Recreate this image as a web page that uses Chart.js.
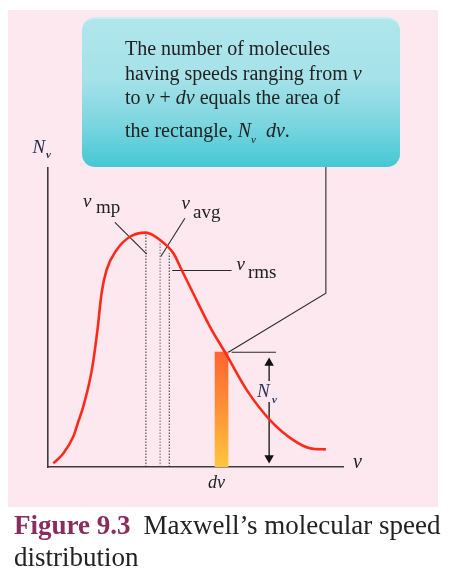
<!DOCTYPE html>
<html>
<head>
<meta charset="utf-8">
<script src="https://cdn.jsdelivr.net/npm/chart.js@4.4.1/dist/chart.umd.min.js"></script>
<style>
  html, body { margin:0; padding:0; background:#fff; }
  #page { position:relative; width:461px; height:578px; overflow:hidden; font-family:"Liberation Serif","Times New Roman",serif; color:#222; }
  #panel { position:absolute; left:8px; top:10px; width:430px; height:497px; background:#fde8ef; }
  #chart { position:absolute; left:0; top:0; }
  #note { position:absolute; left:82px; top:17px; width:318px; height:150px; border-radius:13px;
          background:linear-gradient(to bottom, #b0e6ec 0%, #a6e2e9 40%, #7dd6df 70%, #44c8d4 100%);
          border-top:2px solid #c8f0f3; box-sizing:border-box; }
  .t { position:absolute; line-height:1; white-space:nowrap; }
  .note { font-size:20px; left:125px; color:#222; }
  .lbl { font-size:19px; }
  i { font-style:italic; }
</style>
</head>
<body>
<div id="page">
  <div id="panel"></div>
  <canvas id="chart" width="461" height="578"></canvas>
  <div id="note"></div>

  <div class="t note" style="top:37.5px">The number of molecules</div>
  <div class="t note" style="top:62.5px">having speeds ranging from <i>ν</i></div>
  <div class="t note" style="top:87.3px">to <i>ν</i> + <i>dν</i> equals the area of</div>
  <div class="t note" style="top:120px">the rectangle, <i>N</i><i style="font-size:11px;position:relative;top:6px">ν</i>&nbsp; <i>dν</i>.</div>

  <div class="t lbl" style="left:32.5px;top:137.4px;font-size:19px;color:#1e2a4a"><i>N</i></div>
  <div class="t" style="left:46px;top:149px;font-size:11px;font-weight:bold;color:#1e2a4a"><i>ν</i></div>

  <div class="t lbl" style="left:83px;top:191px"><i>ν</i></div>
  <div class="t lbl" style="left:96px;top:196.8px">mp</div>
  <div class="t lbl" style="left:181.5px;top:193.4px"><i>ν</i></div>
  <div class="t lbl" style="left:193px;top:202.4px">avg</div>
  <div class="t lbl" style="left:236.5px;top:254.1px"><i>ν</i></div>
  <div class="t lbl" style="left:248px;top:262.4px">rms</div>

  <div class="t lbl" style="left:257px;top:381px;color:#2a3560"><i>N</i></div>
  <div class="t" style="left:272px;top:394px;font-size:11px;font-weight:bold;color:#2a3560"><i>ν</i></div>

  <div class="t" style="left:353px;top:450.5px;font-size:20px"><i>ν</i></div>
  <div class="t" style="left:208px;top:473.2px;font-size:18px"><i>dν</i></div>

  <div class="t" style="left:14px;top:512.4px;font-size:27px"><b style="color:#882d5c">Figure 9.3</b><span style="margin-left:13px">Maxwell’s molecular speed</span></div>
  <div class="t" style="left:14px;top:544.4px;font-size:27px">distribution</div>
</div>

<script>
// Maxwell curve (speed, number of molecules), arbitrary units 0..10
const curveSpeed = [0.20, 0.54, 0.87, 1.04, 1.21, 1.50, 1.69, 1.83, 2.00, 2.34, 2.79, 3.33, 3.81, 4.26, 4.54, 4.93, 5.50, 6.06, 6.74, 7.53, 8.32, 8.88, 9.42];
const curveCount = [0.12, 0.46, 1.01, 1.51, 2.02, 3.24, 4.58, 5.81, 6.59, 7.26, 7.70, 7.84, 7.59, 7.15, 6.59, 5.81, 4.69, 3.75, 2.58, 1.57, 0.90, 0.63, 0.59];

// characteristic speeds: most probable, average, rms (dotted lines up to the curve)
const speedNames = ['mp', 'avg', 'rms'];
const speedValues = [3.33, 3.81, 4.12];
const speedHeights = [7.84, 7.54, 7.15];

// leader lines from the labels to the dotted lines
const leaderStart = [[2.28, 8.18], [4.65, 8.32], [4.22, 6.57]];
const leaderEnd = [[3.36, 7.12], [3.83, 7.03], [6.23, 6.57]];

// the dv strip and its height N_v
const stripSpeed = 5.89;
const stripCount = 3.84;

// callout connector from the note box down to the strip
const calloutSpeed = [6.12, 9.42, 9.42];
const calloutCount = [3.84, 5.81, 10.03];

// N_v measuring arrow
const arrowSpeed = 7.50;
const refLineSpeed = [6.23, 7.73];
const arrowUp = [2.88, 3.48];
const arrowDown = [2.17, 0.30];

const ink = '#2b2b2b';

function seg(xs, ys) { return xs.map((x, i) => ({ x: x, y: ys[i] })); }

const datasets = [];

datasets.push({
    type: 'line', label: 'N(v)',
    data: seg(curveSpeed, curveCount),
    borderColor: '#ff2a1a', borderWidth: 2.6,
    pointRadius: 0, cubicInterpolationMode: 'monotone', fill: false, clip: false
});

speedNames.forEach((name, i) => {
    datasets.push({
        type: 'line', label: 'v ' + name,
        data: seg([speedValues[i], speedValues[i]], [0, speedHeights[i]]),
        borderColor: i === 1 ? '#666' : '#333', borderWidth: 1, borderDash: [1.5, 1.5],
        pointRadius: 0, clip: false
    });
    datasets.push({
        type: 'line', label: 'leader ' + name,
        data: seg([leaderStart[i][0], leaderEnd[i][0]], [leaderStart[i][1], leaderEnd[i][1]]),
        borderColor: ink, borderWidth: 1.1, pointRadius: 0, clip: false
    });
});

datasets.push({
    type: 'line', label: 'callout',
    data: seg(calloutSpeed, calloutCount),
    borderColor: ink, borderWidth: 1.1, pointRadius: 0, tension: 0, clip: false
});

datasets.push({
    type: 'line', label: 'ref',
    data: seg(refLineSpeed, [stripCount, stripCount]),
    borderColor: ink, borderWidth: 1.1, pointRadius: 0, clip: false
});

datasets.push({
    type: 'line', label: 'arrow up',
    data: seg([arrowSpeed, arrowSpeed], arrowUp),
    borderColor: '#111', borderWidth: 1.3,
    pointRadius: [0, 5.5], pointStyle: 'triangle', rotation: 0,
    pointBackgroundColor: '#111', pointBorderWidth: 0, clip: false
});

datasets.push({
    type: 'line', label: 'arrow down',
    data: seg([arrowSpeed, arrowSpeed], arrowDown),
    borderColor: '#111', borderWidth: 1.3,
    pointRadius: [0, 5.5], pointStyle: 'triangle', rotation: 180,
    pointBackgroundColor: '#111', pointBorderWidth: 0, clip: false
});

datasets.push({
    type: 'bar', label: 'dv strip',
    data: [{ x: stripSpeed, y: stripCount }],
    barThickness: 13,
    backgroundColor: function(c) {
        const chart = c.chart;
        const area = chart.chartArea;
        if (!area) return '#ff8a35';
        const top = chart.scales.y.getPixelForValue(stripCount);
        const g = chart.ctx.createLinearGradient(0, top, 0, area.bottom);
        g.addColorStop(0, '#ff6432');
        g.addColorStop(0.5, '#ff9236');
        g.addColorStop(1, '#ffc63e');
        return g;
    },
    borderWidth: 0
});

const axisStyle = {
    type: 'linear', min: 0, max: 10, offset: false,
    ticks: { display: false },
    grid: { display: false, drawTicks: false },
    border: { display: true, color: '#3c3c3c', width: 1.6 }
};

new Chart(document.getElementById('chart'), {
    data: { datasets: datasets },
    options: {
        responsive: false,
        animation: false,
        layout: { padding: { left: 47.5, top: 168, right: 118, bottom: 111 } },
        plugins: { legend: { display: false }, tooltip: { enabled: false } },
        scales: { x: Object.assign({}, axisStyle), y: Object.assign({}, axisStyle) }
    }
});
</script>
</body>
</html>
